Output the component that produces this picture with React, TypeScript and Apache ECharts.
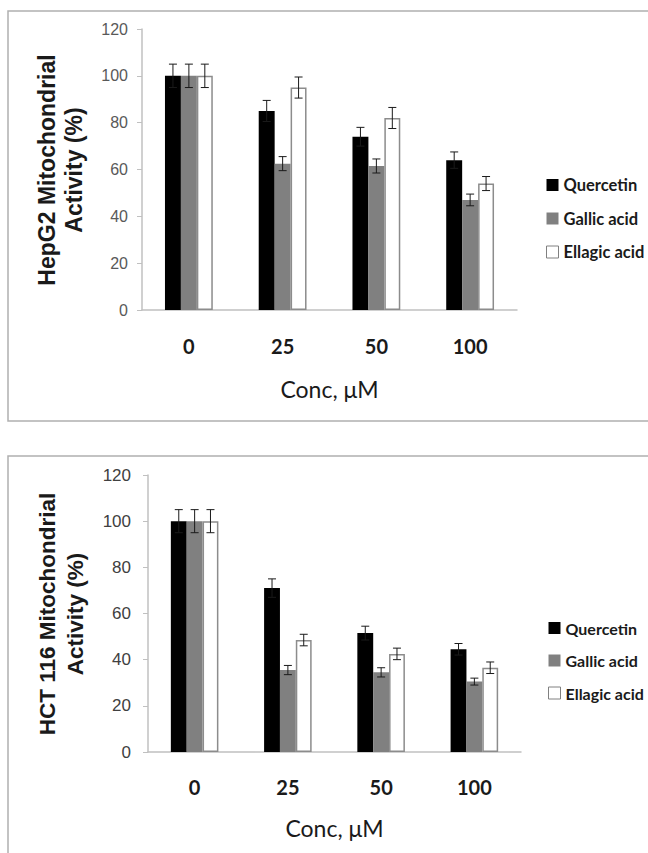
import React, { useEffect, useRef } from "react";
import * as echarts from "echarts";

const categories = ["0", "25", "50", "100"];
const compounds = ["Quercetin", "Gallic acid", "Ellagic acid"];

const hepQuercetin = [100, 85, 74, 64];
const hepGallic = [100, 62.5, 61.5, 47];
const hepEllagic = [100, 95, 82, 54];
const hepQuercetinErr = [5, 4.5, 4, 3.5];
const hepGallicErr = [5, 3, 3, 2.5];
const hepEllagicErr = [5, 4.5, 4.5, 3];

const hctQuercetin = [100, 71, 51.5, 44.5];
const hctGallic = [100, 35.5, 34.5, 30.5];
const hctEllagic = [100, 48.5, 42.5, 36.5];
const hctQuercetinErr = [5, 4, 3, 2.5];
const hctGallicErr = [5, 2, 2, 1.5];
const hctEllagicErr = [5, 2.5, 2.5, 2.5];

const yTicks = { min: 0, max: 120, interval: 20 };

const GAP = 0.49;
const barColors = ["#000000", "#808080", "#ffffff"];
const barBorders = ["#000000", "#808080", "#8c8c8c"];

export default function App() {
  const ref = useRef<HTMLDivElement>(null);

  useEffect(() => {
    if (!ref.current) return;
    const chart = echarts.init(ref.current, null, { renderer: "svg" });

    const panels = [
      { vals: [hepQuercetin, hepGallic, hepEllagic], errs: [hepQuercetinErr, hepGallicErr, hepEllagicErr] },
      { vals: [hctQuercetin, hctGallic, hctEllagic], errs: [hctQuercetinErr, hctGallicErr, hctEllagicErr] },
    ];

    const series: any[] = [];
    panels.forEach((p, gi) => {
      p.vals.forEach((vals, si) => {
        series.push({
          type: "bar",
          name: compounds[si],
          xAxisIndex: gi,
          yAxisIndex: gi,
          data: vals,
          barGap: "0%",
          barCategoryGap: GAP * 100 + "%",
          itemStyle: {
            color: barColors[si],
            borderColor: barBorders[si],
            borderWidth: si === 2 ? 1.5 : 0,
          },
        });
      });
    });
    panels.forEach((p, gi) => {
      p.vals.forEach((vals, si) => {
        series.push({
          type: "custom",
          name: compounds[si] + " SD " + gi,
          xAxisIndex: gi,
          yAxisIndex: gi,
          z: 5,
          data: vals.map((v, ci) => [ci, v, p.errs[si][ci]]),
          encode: { x: 0, y: 1 },
          renderItem: (params: any, api: any) => {
            const cat = api.value(0);
            const v = api.value(1);
            const e = api.value(2);
            const c = api.coord([cat, v]);
            const band = api.size([1, 0])[0];
            const group = band * (1 - GAP);
            const bw = group / 3;
            const x = c[0] - group / 2 + bw * (si + 0.5);
            const yTop = api.coord([cat, v + e])[1];
            const yBot = api.coord([cat, v - e])[1];
            const style = { stroke: "#1a1a1a", lineWidth: 1 };
            return {
              type: "group",
              children: [
                { type: "line", shape: { x1: x, y1: yTop, x2: x, y2: yBot }, style },
                { type: "line", shape: { x1: x - 4, y1: yTop, x2: x + 4, y2: yTop }, style },
                { type: "line", shape: { x1: x - 4, y1: yBot, x2: x + 4, y2: yBot }, style },
              ],
            };
          },
        });
      });
    });

    const grids = [
      { left: 142, top: 29, width: 375, height: 281 },
      { left: 148, top: 475, width: 373, height: 277 },
    ];

    const xAxes = grids.map((g, gi) => ({
      type: "category",
      gridIndex: gi,
      data: categories,
      axisLine: { lineStyle: { color: "#c0c0c0", width: 1.5 } },
      axisTick: { show: false },
      axisLabel: {
        margin: gi === 0 ? 26 : 25,
        fontFamily: "Lato",
        fontWeight: "bold",
        fontSize: 20,
        color: "#1a1a1a",
      },
      name: "Conc, μM",
      nameLocation: "middle",
      nameGap: gi === 0 ? 67 : 64,
      nameTextStyle: { fontFamily: "Lato", fontSize: 23, color: "#1a1a1a" },
    }));

    const yAxes = grids.map((g, gi) => ({
      type: "value",
      gridIndex: gi,
      min: yTicks.min,
      max: yTicks.max,
      interval: yTicks.interval,
      splitLine: { show: false },
      axisLine: { show: true, lineStyle: { color: "#c0c0c0", width: 1.5 } },
      axisTick: { show: true, length: 5, lineStyle: { color: "#c0c0c0" } },
      axisLabel: {
        margin: gi === 0 ? 14 : 17,
        fontFamily: "Liberation Sans",
        fontSize: gi === 0 ? 16 : 17,
        color: gi === 0 ? "#595959" : "#404040",
      },
    }));

    const legendItems = compounds.map((n, i) => ({
      name: n,
      itemStyle: {
        color: barColors[i],
        borderColor: i === 2 ? "#808080" : barColors[i],
        borderWidth: i === 2 ? 1 : 0,
      },
    }));

    chart.setOption({
      animation: false,
      grid: grids,
      xAxis: xAxes,
      yAxis: yAxes,
      legend: [
        {
          orient: "vertical",
          left: 541,
          top: 170,
          icon: "rect",
          itemWidth: 12,
          itemHeight: 12,
          itemGap: 13.5,
          data: legendItems,
          textStyle: { fontFamily: "Lato", fontWeight: "bold", fontSize: 16.5, lineHeight: 20, color: "#1a1a1a" },
        },
        {
          orient: "vertical",
          left: 543,
          top: 613,
          icon: "rect",
          itemWidth: 12,
          itemHeight: 12,
          itemGap: 12.5,
          data: legendItems,
          textStyle: { fontFamily: "Lato", fontWeight: "bold", fontSize: 16, lineHeight: 20, color: "#1a1a1a" },
        },
      ],
      graphic: [
        {
          type: "rect",
          shape: { x: 8, y: 11, width: 700, height: 410 },
          style: { fill: "none", stroke: "#b0b0b0", lineWidth: 1.5 },
          z: -1,
        },
        {
          type: "rect",
          shape: { x: 8, y: 456, width: 700, height: 500 },
          style: { fill: "none", stroke: "#b0b0b0", lineWidth: 1.5 },
          z: -1,
        },
        {
          type: "text",
          x: 60,
          y: 170,
          rotation: Math.PI / 2,
          style: {
            text: "HepG2 Mitochondrial\nActivity (%)",
            font: "bold 23px 'Liberation Sans'",
            lineHeight: 27,
            align: "center",
            verticalAlign: "middle",
            fill: "#1a1a1a",
          },
        },
        {
          type: "text",
          x: 61,
          y: 614,
          rotation: Math.PI / 2,
          style: {
            text: "HCT 116 Mitochondrial\nActivity (%)",
            font: "bold 22.5px 'Liberation Sans'",
            lineHeight: 28,
            align: "center",
            verticalAlign: "middle",
            fill: "#1a1a1a",
          },
        },
      ],
      series,
    });

    return () => chart.dispose();
  }, []);

  return (
    <div
      ref={ref}
      style={{ position: "absolute", left: 0, top: 0, width: 648, height: 853, background: "#fff" }}
    />
  );
}
